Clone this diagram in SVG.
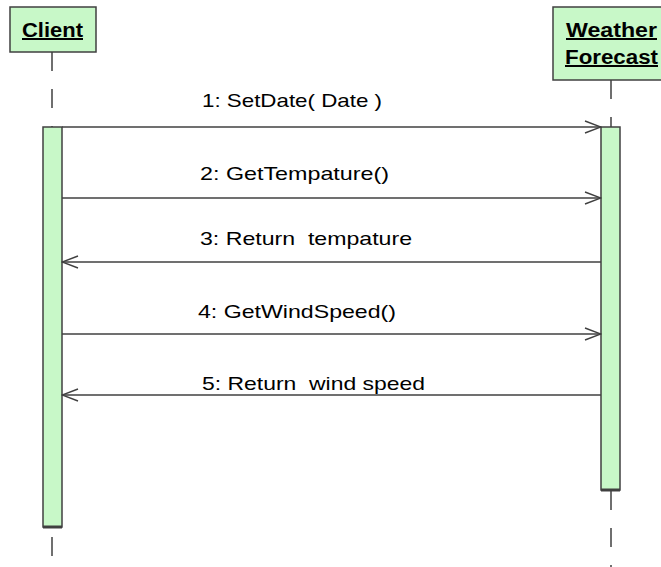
<svg xmlns="http://www.w3.org/2000/svg" width="661" height="567" viewBox="0 0 661 567" xml:space="preserve">
  <style>
    .head { fill: #c8f8c8; stroke: #404040; stroke-width: 1.5; }
    .act { fill: #c8f8c8; stroke: #404040; stroke-width: 1.5; }
    .actEnd { stroke: #404040; stroke-width: 3; }
    .life { stroke: #404040; stroke-width: 1.5; stroke-dasharray: 19 18; fill: none; }
    .msg { stroke: #404040; stroke-width: 1.4; fill: none; }
    .title { font-family: "Liberation Sans", Arial, sans-serif; font-size: 20px; font-weight: bold; text-decoration: underline; fill: #000; }
    .label { font-family: "Liberation Sans", Arial, sans-serif; font-size: 19px; fill: #000; white-space: pre; }
  </style>
  <defs>
    <marker id="open" markerWidth="18" markerHeight="14" refX="17" refY="7" orient="auto" markerUnits="userSpaceOnUse">
      <path d="M1,1 L17,7 L1,13" fill="none" stroke="#404040" stroke-width="1.4"/>
    </marker>
  </defs>
  <rect width="661" height="567" fill="#ffffff"/>

  <!-- Client lifeline -->
  <g id="client">
    <line class="life" x1="52" y1="52" x2="52" y2="127"/>
    <line class="life" x1="52" y1="537" x2="52" y2="567"/>
    <rect class="head" x="10" y="7" width="86" height="45"/>
    <text class="title" x="22" y="37" textLength="61" lengthAdjust="spacingAndGlyphs">Client</text>
    <rect class="act" x="43" y="127" width="19" height="400"/>
    <line class="actEnd" x1="43" y1="527" x2="62" y2="527"/>
  </g>

  <!-- Weather Forecast lifeline -->
  <g id="weather">
    <line class="life" x1="611" y1="80" x2="611" y2="127"/>
    <line class="life" x1="611" y1="491" x2="611" y2="567"/>
    <rect class="head" x="553" y="7" width="116" height="73"/>
    <text class="title" x="566" y="37" textLength="91" lengthAdjust="spacingAndGlyphs">Weather</text>
    <text class="title" x="565" y="64" textLength="93" lengthAdjust="spacingAndGlyphs">Forecast</text>
    <rect class="act" x="601" y="127" width="19" height="363"/>
    <line class="actEnd" x1="601" y1="490" x2="620" y2="490"/>
  </g>

  <!-- Messages -->
  <g id="connectors">
    <line class="msg" x1="62" y1="127" x2="601" y2="127" marker-end="url(#open)"/>
    <line class="msg" x1="62" y1="198" x2="601" y2="198" marker-end="url(#open)"/>
    <line class="msg" x1="601" y1="262" x2="62" y2="262" marker-end="url(#open)"/>
    <line class="msg" x1="62" y1="334" x2="601" y2="334" marker-end="url(#open)"/>
    <line class="msg" x1="601" y1="395" x2="62" y2="395" marker-end="url(#open)"/>
    <text class="label" x="202" y="107" textLength="180" lengthAdjust="spacingAndGlyphs">1: SetDate( Date )</text>
    <text class="label" x="200" y="180" textLength="189" lengthAdjust="spacingAndGlyphs">2: GetTempature()</text>
    <text class="label" x="200" y="245" textLength="212" lengthAdjust="spacingAndGlyphs">3: Return  tempature</text>
    <text class="label" x="198" y="318" textLength="198" lengthAdjust="spacingAndGlyphs">4: GetWindSpeed()</text>
    <text class="label" x="202" y="390" textLength="223" lengthAdjust="spacingAndGlyphs">5: Return  wind speed</text>
  </g>
</svg>
